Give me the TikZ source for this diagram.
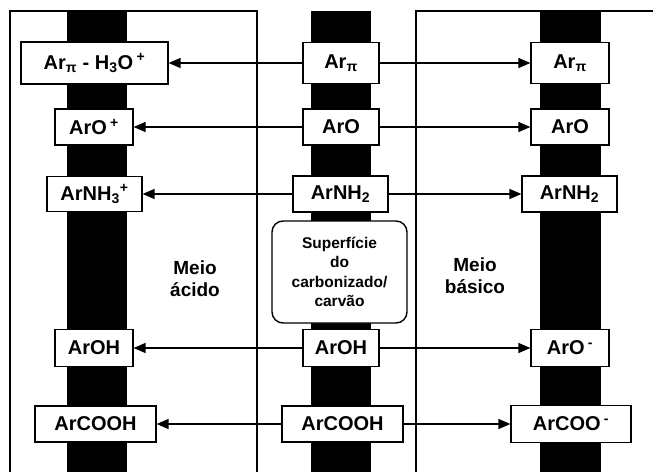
\documentclass[tikz,border=0pt]{standalone}
\usepackage{fontspec}
\setmainfont{Liberation Sans}
\usetikzlibrary{arrows.meta}

\begin{document}
\begin{tikzpicture}[
        x=1pt, y=1pt,
        bar/.style={fill=black},
        frame/.style={line width=2.4pt},
        box/.style={draw, fill=white, line width=1.2pt, inner sep=0pt,
                    font=\fontsize{20}{23}\selectfont\bfseries, align=center},
        surf/.style={draw, fill=white, line width=1.4pt, rounded corners=11pt,
                     inner sep=0pt, minimum width=135pt, minimum height=102pt,
                     font=\fontsize{15.5}{19.5}\selectfont\bfseries, align=center},
        lbl/.style={font=\fontsize{19}{22}\selectfont\bfseries, align=center},
        arr/.style={-{Triangle[length=12pt,width=10pt]}, line width=1.3pt}
      ]
        \useasboundingbox (0,0) rectangle (653,472);
        % bars and frames
        \fill[bar] (67,0) rectangle (127,461);
        \fill[bar] (311,0) rectangle (371,461);
        \fill[bar] (540,0) rectangle (601,461);
        \draw[frame] (10,0) -- (10,461) -- (257,461) -- (257,0);
        \draw[frame] (416,0) -- (416,461) -- (653,461);

        % surface column
        \node[box, minimum width=76pt, minimum height=41pt] (pi) at (341,409) {Ar\textsubscript{π}};
        \node[box, minimum width=76pt, minimum height=36pt] (aro) at (341,345) {ArO};
        \node[box, minimum width=95pt, minimum height=36pt] (nh) at (340.5,278) {ArNH\textsubscript{2}};
        \node[surf] (surface) at (339.5,200) {Superfície\\do\\carbonizado/\\carvão};
        \node[box, minimum width=76pt, minimum height=37pt] (oh) at (341,124) {ArOH};
        \node[box, minimum width=121pt, minimum height=36pt] (cooh) at (342.5,48) {ArCOOH};

        % acid side
        \node[box, minimum width=147pt, minimum height=42pt] (piacid) at (94.5,409)
          {Ar\textsubscript{π} - H\textsubscript{3}O\,\textsuperscript{+}};
        \node[box, minimum width=78pt, minimum height=36pt] (aroacid) at (94,345) {ArO\,\textsuperscript{+}};
        \node[box, minimum width=95pt, minimum height=35pt] (nhacid) at (94.5,278)
          {ArNH\textsubscript{3}\textsuperscript{+}};
        \node[box, minimum width=78pt, minimum height=37pt] (ohacid) at (94,124) {ArOH};
        \node[box, minimum width=121pt, minimum height=36pt] (coohacid) at (95.5,48) {ArCOOH};
        \node[lbl] (acid) at (195,193) {Meio\\ácido};

        % basic side
        \node[box, minimum width=78pt, minimum height=41pt] (pibase) at (570,409) {Ar\textsubscript{π}};
        \node[box, minimum width=78pt, minimum height=36pt] (arobase) at (570,345) {ArO};
        \node[box, minimum width=95pt, minimum height=36pt] (nhbase) at (569.5,278) {ArNH\textsubscript{2}};
        \node[box, minimum width=78pt, minimum height=37pt] (ohbase) at (570,124) {ArO\,\textsuperscript{-}};
        \node[box, minimum width=120pt, minimum height=37pt] (coohbase) at (571,48) {ArCOO\,\textsuperscript{-}};
        \node[lbl] (base) at (475,196) {Meio\\básico};

        \draw[arr] (pi) -- (piacid);
        \draw[arr] (pi) -- (pibase);
        \draw[arr] (aro) -- (aroacid);
        \draw[arr] (aro) -- (arobase);
        \draw[arr] (nh) -- (nhacid);
        \draw[arr] (nh) -- (nhbase);
        \draw[arr] (oh) -- (ohacid);
        \draw[arr] (oh) -- (ohbase);
        \draw[arr] (cooh) -- (coohacid);
        \draw[arr] (cooh) -- (coohbase);
      \end{tikzpicture}
\end{document}
